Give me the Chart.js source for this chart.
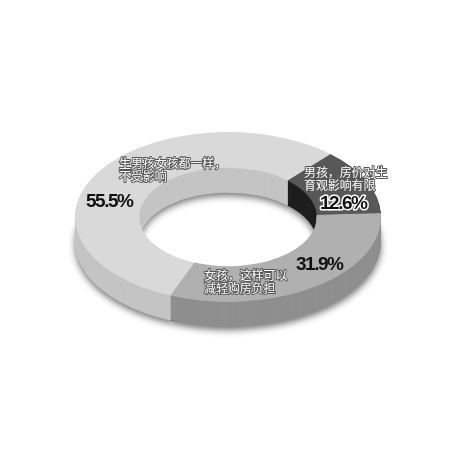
<!DOCTYPE html>
<html><head><meta charset="utf-8">
<style>html,body{margin:0;padding:0;background:#fff}canvas{display:block}</style>
<script src="https://cdn.jsdelivr.net/npm/chart.js@4"></script>
</head><body>
<canvas id="c" width="450" height="450"></canvas>
<script>
const categories = ["男孩，房价对生育观影响有限", "女孩，这样可以减轻购房负担", "生男孩女孩都一样，不受影响"];
const shares = [12.6, 31.9, 55.5];
const topColors = ["#585858", "#b0b0b0", "#d9d9d9"];
const sideColors = ["#1e1e1e", "#8f8f8f", "#c4c4c4"];

const squash = 0.555, depth = 25;
const lineNotes = [
  {lines:["男孩，房价对生","育观影响有限"], x:304, y:172},
  {lines:["女孩，这样可以","减轻购房负担"], x:204, y:275},
  {lines:["生男孩女孩都一样，","不受影响"], x:119, y:163}
];
const percentNotes = [
  {i:0, x:320, y:204, halo:true},
  {i:1, x:296, y:265, halo:false},
  {i:2, x:86, y:202, halo:false}
];

const ring3d = {
  id:"ring3d",
  beforeDatasetsDraw(chart){
    const ctx = chart.ctx, arcs = chart.getDatasetMeta(0).data;
    const cx = arcs[0].x, cy = arcs[0].y;
    ctx.save();
    ctx.translate(cx,cy); ctx.scale(1,squash); ctx.translate(-cx,-cy);
    for(let d=depth; d>=1; d--){
      ctx.save();
      ctx.translate(0,d/squash);
      if(d===depth){ ctx.shadowColor="rgba(0,0,0,.55)"; ctx.shadowBlur=7; ctx.shadowOffsetY=3; }
      arcs.forEach((a,i)=>{
        const o=a.options;
        a.options=Object.assign({},o,{backgroundColor:sideColors[i]});
        a.draw(ctx);
        a.options=o;
      });
      ctx.restore();
    }
  },
  afterDatasetsDraw(chart){
    const ctx = chart.ctx;
    ctx.restore();
    ctx.save();
    ctx.textBaseline="middle"; ctx.textAlign="left";
    ctx.lineJoin="round";
    ctx.font='12px "Noto Sans CJK SC"';
    ctx.letterSpacing="-0.1px";
    lineNotes.forEach(n=>n.lines.forEach((t,j)=>{
      const y=n.y+j*13;
      ctx.lineWidth=2; ctx.strokeStyle="#555"; ctx.strokeText(t,n.x,y);
      ctx.fillStyle="#fff"; ctx.fillText(t,n.x,y);
    }));
    ctx.font='bold 19px "Liberation Sans"';
    ctx.letterSpacing="-1.5px";
    percentNotes.forEach(n=>{
      const t=shares[n.i].toFixed(1)+"%";
      if(n.halo){ ctx.lineWidth=3; ctx.strokeStyle="#fff"; ctx.strokeText(t,n.x,n.y); }
      ctx.fillStyle="#111"; ctx.fillText(t,n.x,n.y);
    });
    ctx.restore();
  }
};

new Chart(document.getElementById("c"),{
  type:"doughnut",
  data:{labels:categories,datasets:[{data:shares,backgroundColor:topColors,borderWidth:0,clip:false}]},
  options:{
    responsive:false,animation:false,rotation:42,cutout:"58%",
    layout:{padding:{left:75,right:69,top:64,bottom:80}},
    plugins:{legend:{display:false},tooltip:{enabled:false}},
    events:[]
  },
  plugins:[ring3d]
});
</script>
</body></html>
